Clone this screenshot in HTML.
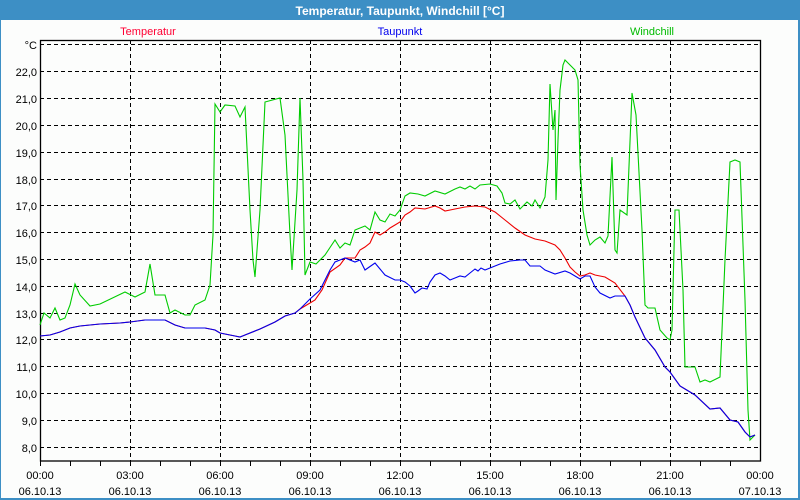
<!DOCTYPE html>
<html><head><meta charset="utf-8"><style>
body{margin:0;width:800px;height:500px;overflow:hidden;background:#fcfdfc}
svg{display:block}
text{font-family:"Liberation Sans","DejaVu Sans",sans-serif;font-size:11px}
</style></head><body>
<svg width="800" height="500" xmlns="http://www.w3.org/2000/svg">
<rect x="0" y="0" width="800" height="500" fill="#3d8fc5"/>
<rect x="1" y="20" width="797" height="478" fill="#fcfdfc"/>
<text x="400" y="15" text-anchor="middle" fill="#fff" font-weight="bold" style="font-size:12px">Temperatur, Taupunkt, Windchill [°C]</text>
<text x="148" y="35" text-anchor="middle" fill="#ff0033">Temperatur</text>
<text x="400" y="35" text-anchor="middle" fill="#0000ee">Taupunkt</text>
<text x="652" y="35" text-anchor="middle" fill="#00bb00">Windchill</text>
<g stroke="#000" stroke-dasharray="4,3" stroke-width="1">
<line x1="40" x2="760" y1="44.5" y2="44.5"/>
<line x1="40" x2="760" y1="71.5" y2="71.5"/>
<line x1="40" x2="760" y1="98.5" y2="98.5"/>
<line x1="40" x2="760" y1="125.5" y2="125.5"/>
<line x1="40" x2="760" y1="152.5" y2="152.5"/>
<line x1="40" x2="760" y1="179.5" y2="179.5"/>
<line x1="40" x2="760" y1="205.5" y2="205.5"/>
<line x1="40" x2="760" y1="232.5" y2="232.5"/>
<line x1="40" x2="760" y1="259.5" y2="259.5"/>
<line x1="40" x2="760" y1="286.5" y2="286.5"/>
<line x1="40" x2="760" y1="313.5" y2="313.5"/>
<line x1="40" x2="760" y1="339.5" y2="339.5"/>
<line x1="40" x2="760" y1="366.5" y2="366.5"/>
<line x1="40" x2="760" y1="393.5" y2="393.5"/>
<line x1="40" x2="760" y1="420.5" y2="420.5"/>
<line x1="40" x2="760" y1="447.5" y2="447.5"/>
<line y1="40" y2="461" x1="130.5" x2="130.5"/>
<line y1="40" y2="461" x1="220.5" x2="220.5"/>
<line y1="40" y2="461" x1="310.5" x2="310.5"/>
<line y1="40" y2="461" x1="400.5" x2="400.5"/>
<line y1="40" y2="461" x1="490.5" x2="490.5"/>
<line y1="40" y2="461" x1="580.5" x2="580.5"/>
<line y1="40" y2="461" x1="670.5" x2="670.5"/>
</g>
<rect x="40.5" y="40.5" width="720" height="420.5" fill="none" stroke="#000" stroke-width="1.3"/>
<g stroke="#000">
<path d="M70.5 461v5M100.5 461v5M130.5 461v5M160.5 461v5M190.5 461v5M220.5 461v5M250.5 461v5M280.5 461v5M310.5 461v5M340.5 461v5M370.5 461v5M400.5 461v5M430.5 461v5M460.5 461v5M490.5 461v5M520.5 461v5M550.5 461v5M580.5 461v5M610.5 461v5M640.5 461v5M670.5 461v5M700.5 461v5M730.5 461v5M40.5 461v5"/>
</g>
<g text-anchor="end" fill="#000">
<text x="37" y="49">°C</text>
<text x="37" y="76">22,0</text><text x="37" y="103">21,0</text><text x="37" y="130">20,0</text>
<text x="37" y="157">19,0</text><text x="37" y="184">18,0</text><text x="37" y="210">17,0</text>
<text x="37" y="237">16,0</text><text x="37" y="264">15,0</text><text x="37" y="291">14,0</text>
<text x="37" y="318">13,0</text><text x="37" y="344">12,0</text><text x="37" y="371">11,0</text>
<text x="37" y="398">10,0</text><text x="37" y="425">9,0</text><text x="37" y="452">8,0</text>
</g>
<g text-anchor="middle" fill="#000">
<text x="40" y="479">00:00</text><text x="40" y="495">06.10.13</text>
<text x="130" y="479">03:00</text><text x="130" y="495">06.10.13</text>
<text x="220" y="479">06:00</text><text x="220" y="495">06.10.13</text>
<text x="310" y="479">09:00</text><text x="310" y="495">06.10.13</text>
<text x="400" y="479">12:00</text><text x="400" y="495">06.10.13</text>
<text x="490" y="479">15:00</text><text x="490" y="495">06.10.13</text>
<text x="580" y="479">18:00</text><text x="580" y="495">06.10.13</text>
<text x="670" y="479">21:00</text><text x="670" y="495">06.10.13</text>
<text x="760" y="479">00:00</text><text x="760" y="495">07.10.13</text>
</g>
<polyline fill="none" stroke="#00cc00" stroke-width="1.1" points="40,325 44,313 50,318 55,308 60,320 65,318 70,305 75,284 80,295 90,306 100,304 125,292 135,297 145,292 150,264 155,295 165,295 170,313 175,310 185,315 190,315 195,305 205,300 210,285 213,235 215,104 220,112 225,105 235,106 240,117 245,107 250,210 253,260 255,277 260,210 265,102 280,98 285,135 290,235 292,270 297,190 300,98 303,180 305,275 310,262 316,264 325,255 335,240 340,248 345,243 350,245 355,230 365,226 370,230 375,212 380,220 385,222 390,214 395,216 400,210 405,196 410,193 418,194 425,196 435,191 445,194 455,189 460,187 465,189 470,186 475,189 480,185 490,184 497,186 502,193 505,203 510,204 515,200 520,209 527,202 532,206 535,200 540,208 545,197 548,160 550,84 553,130 555,110 556,200 558,140 560,90 563,65 565,60 575,70 578,80 580,165 583,210 587,235 590,245 595,240 600,237 605,243 608,236 612,157 615,250 617,253 620,210 627,215 632,93 636,115 642,230 645,305 648,308 655,308 660,330 667,338 670,340 672,330 675,210 679,210 683,290 685,367 695,367 700,382 705,380 710,382 720,377 725,260 730,162 735,160 740,162 745,300 748,410 750,440 755,435"/>
<polyline fill="none" stroke="#ee0000" stroke-width="1.1" points="40,336 50,335 60,332 70,328 80,326 100,324 120,323 130,322 145,320 165,320 175,325 185,328 205,328 215,330 220,333 235,336 240,337 245,335 260,329 275,322 285,316 295,313 300,309 310,303 315,300 322,290 330,272 340,265 345,258 355,258 360,250 365,247 370,243 375,232 380,235 385,232 390,228 395,225 400,222 405,215 410,212 415,208 425,209 435,206 440,208 445,211 455,209 465,207 475,206 485,207 495,212 505,220 515,228 525,235 535,239 545,241 555,245 560,250 565,258 570,267 575,272 580,276 585,275 590,273 595,275 605,277 615,283 625,296 630,305 635,317 645,338 655,350 665,367 670,372 680,386 695,395 710,409 720,408 730,420 738,422 745,432 750,437 755,435"/>
<polyline fill="none" stroke="#0000ee" stroke-width="1.1" points="40,336 50,335 60,332 70,328 80,326 100,324 120,323 130,322 145,320 165,320 175,325 185,328 205,328 215,330 220,333 235,336 240,337 245,335 260,329 275,322 285,316 295,313 300,309 310,299 320,290 330,270 335,262 345,258 355,262 360,260 365,270 375,263 385,275 395,280 400,280 405,282 410,286 415,293 418,291 422,288 427,289 430,282 435,275 440,273 445,276 450,280 455,278 460,276 465,277 470,273 475,269 478,271 481,268 485,270 490,268 500,264 510,261 520,260 525,260 530,266 540,266 545,270 555,274 565,271 570,273 575,276 580,279 585,276 590,276 595,287 600,293 610,298 615,296 625,296 630,305 635,317 645,338 655,350 665,367 670,372 680,386 695,395 710,409 720,408 730,420 738,422 745,432 750,437 755,435"/>
</svg>
</body></html>
